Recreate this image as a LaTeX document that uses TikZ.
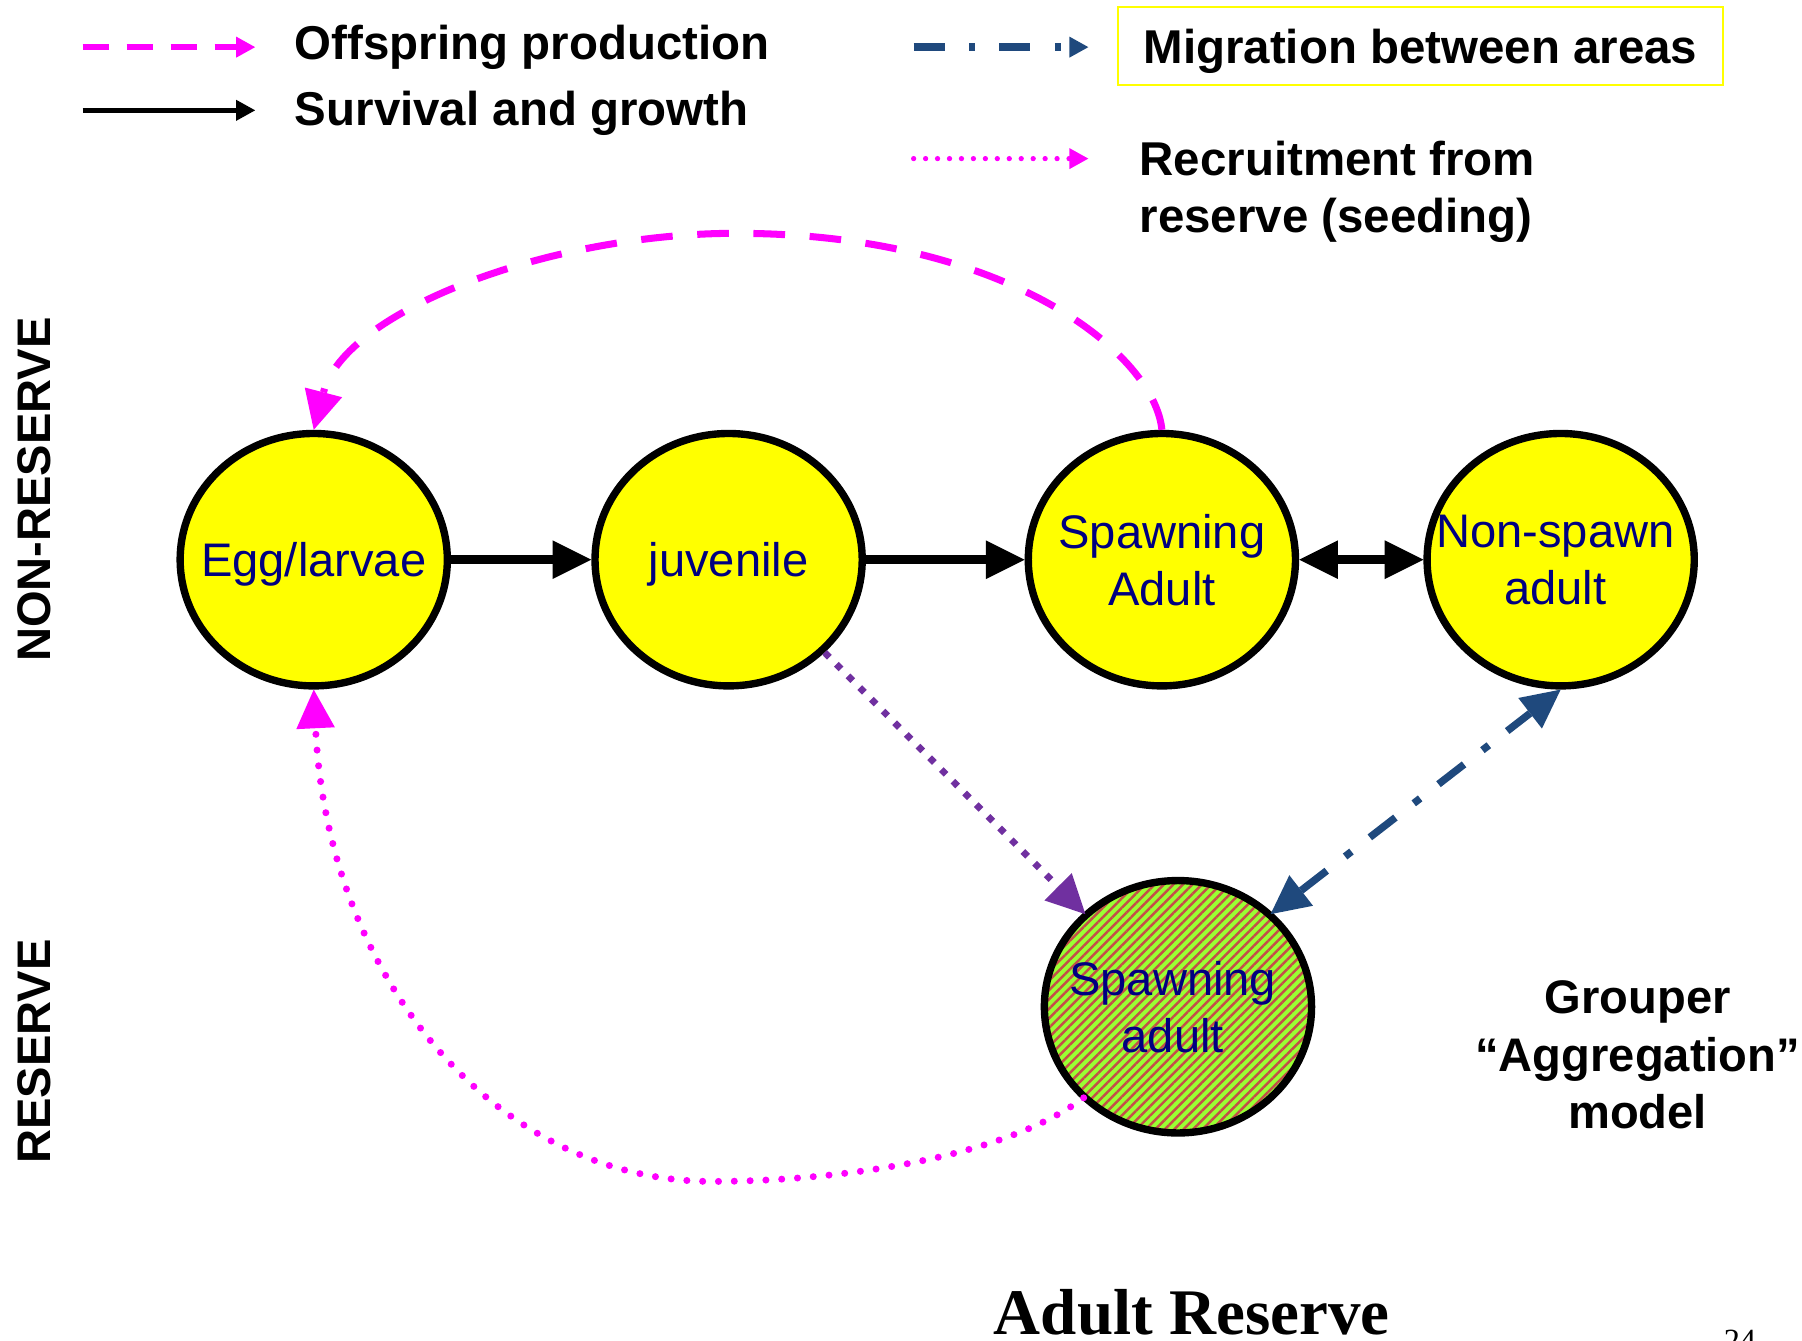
\documentclass[tikz,border=0pt]{standalone}
\usepackage{fontspec}
\setmainfont{Liberation Sans}
\newfontfamily\serifface{Liberation Serif}
\usetikzlibrary{arrows.meta,shapes.geometric,patterns.meta}

\definecolor{stageyellow}{RGB}{255,255,0}
\definecolor{navytext}{RGB}{0,0,128}
\definecolor{offmagenta}{RGB}{255,0,255}
\definecolor{migblue}{RGB}{31,73,125}
\definecolor{recpurple}{RGB}{112,48,160}
\definecolor{reslime}{RGB}{153,255,51}
\definecolor{resstripe}{RGB}{196,78,72}

\tikzset{
  BigTri/.tip={Triangle[length=11pt,width=11pt,line width=0pt]},
  SmallTri/.tip={Triangle[length=5.4pt,width=6pt,line width=0pt]},
}

\begin{document}
\begin{tikzpicture}[x=0.011492cm, y=-0.011492cm,
  stage/.style={ellipse, draw=black, line width=2.1pt, fill=stageyellow,
    minimum width=76pt, minimum height=71.8pt, inner sep=0pt},
  stagetext/.style={text=navytext, font=\fontsize{13.4pt}{16.2pt}\selectfont,
    align=center, inner sep=0pt},
  legendtext/.style={font=\fontsize{13.5pt}{16.3pt}\selectfont\bfseries,
    anchor=base west, inner sep=0pt},
  sidelabel/.style={font=\fontsize{13.4pt}{16pt}\selectfont\bfseries,
    rotate=90, inner sep=0pt},
  growth/.style={black, line width=2.4pt, -BigTri},
  offspring/.style={offmagenta, line width=2pt, dash pattern=on 9pt off 7pt, -BigTri},
  seeding/.style={offmagenta, line width=2pt, line cap=round,
    dash pattern=on 0pt off 4.5pt, -BigTri},
  reservemove/.style={recpurple, line width=1.9pt, dash pattern=on 1.9pt off 2.8pt, -BigTri},
  migration/.style={migblue, line width=2.1pt,
    dash pattern=on 9.2pt off 6.6pt on 2.3pt off 6.6pt, BigTri-BigTri},
]
\useasboundingbox (0,0) rectangle (1568,1166);

% ---- legend ----
\coordinate (offA) at (72,41);   \coordinate (offB) at (222,41);
\coordinate (survA) at (72,96);  \coordinate (survB) at (222,96);
\coordinate (migA) at (795,41);  \coordinate (migB) at (947,41);
\coordinate (recA) at (795,138); \coordinate (recB) at (947,138);

\draw[offmagenta, line width=1.9pt, dash pattern=on 7.5pt off 5pt, -SmallTri] (offA) -- (offB);
\draw[black, line width=1.6pt, -SmallTri] (survA) -- (survB);
\draw[migblue, line width=2.1pt, dash pattern=on 8.8pt off 7pt on 1.6pt off 7pt, -SmallTri] (migA) -- (migB);
\draw[offmagenta, line width=1.5pt, line cap=round, dash pattern=on 0pt off 3.4pt, -SmallTri] (recA) -- (recB);

\node[legendtext] (offtext) at (256,52) {Offspring production};
\node[legendtext] (survtext) at (256,109) {Survival and growth};
\node[draw=stageyellow, line width=0.7pt, font=\fontsize{13.5pt}{16.3pt}\selectfont\bfseries,
  text height=10pt, text depth=0pt,
  minimum width=172pt, minimum height=22.2pt, inner sep=0pt] (migtext) at (1236,40) {Migration between areas};
\node[font=\fontsize{13.5pt}{16.3pt}\selectfont\bfseries, align=left, anchor=north west,
  inner sep=0pt] (rectext) at (991,122) {Recruitment from\\reserve (seeding)};

% ---- area labels ----
\node[sidelabel] (nonres) at (30,426) {NON-RESERVE};
\node[sidelabel] (reslab) at (30,915) {RESERVE};

% ---- life stages ----
\node[stage, label={[stagetext, yshift=-1.3pt]center:Egg/larvae}] (egg) at (273,487) {};
\node[stage, label={[stagetext, yshift=-1.3pt]center:juvenile}] (juv) at (634,487) {};
\node[stage, label={[stagetext]center:{Spawning\\Adult}}] (spa) at (1011,487) {};
\node[stage, label={[stagetext, xshift=-1.5pt]center:{Non-spawn\\adult}}] (nsp) at (1358,487) {};
\node[stage, pattern={Lines[angle=45,distance=1.9pt,line width=0.7pt]}, pattern color=resstripe,
  preaction={fill=reslime},
  label={[stagetext, xshift=-1.5pt]center:{Spawning\\adult}}] (res) at (1025,876) {};

% ---- transitions ----
\draw[growth] (egg) -- (juv);
\draw[growth] (juv) -- (spa);
\draw[black, line width=2.4pt, BigTri-BigTri] (spa) -- (nsp);

\draw[offspring] (spa.north) .. controls (1005,310) and (880,203) .. (640,203)
  .. controls (480,203) and (300,270) .. (egg.north);

\draw[reservemove] (juv.-44) -- (res.135);
\draw[migration] (res.45) -- (nsp.south);

\draw[seeding] (res.-136) .. controls (870,1010) and (720,1028) .. (620,1028)
  .. controls (430,1028) and (285,850) .. (egg.south);

% ---- captions ----
\node[font=\fontsize{13.4pt}{16.3pt}\selectfont\bfseries, align=center, inner sep=0pt]
  (model) at (1425,918) {Grouper\\“Aggregation”\\model};
\node[font=\serifface\bfseries\fontsize{18.5pt}{20pt}\selectfont, anchor=base, inner sep=0pt]
  (title) at (1037,1161) {Adult Reserve};
\node[font=\serifface\fontsize{9.2pt}{11pt}\selectfont, anchor=base, inner sep=0pt]
  (pagenum) at (1514,1176) {24};
\end{tikzpicture}
\end{document}
